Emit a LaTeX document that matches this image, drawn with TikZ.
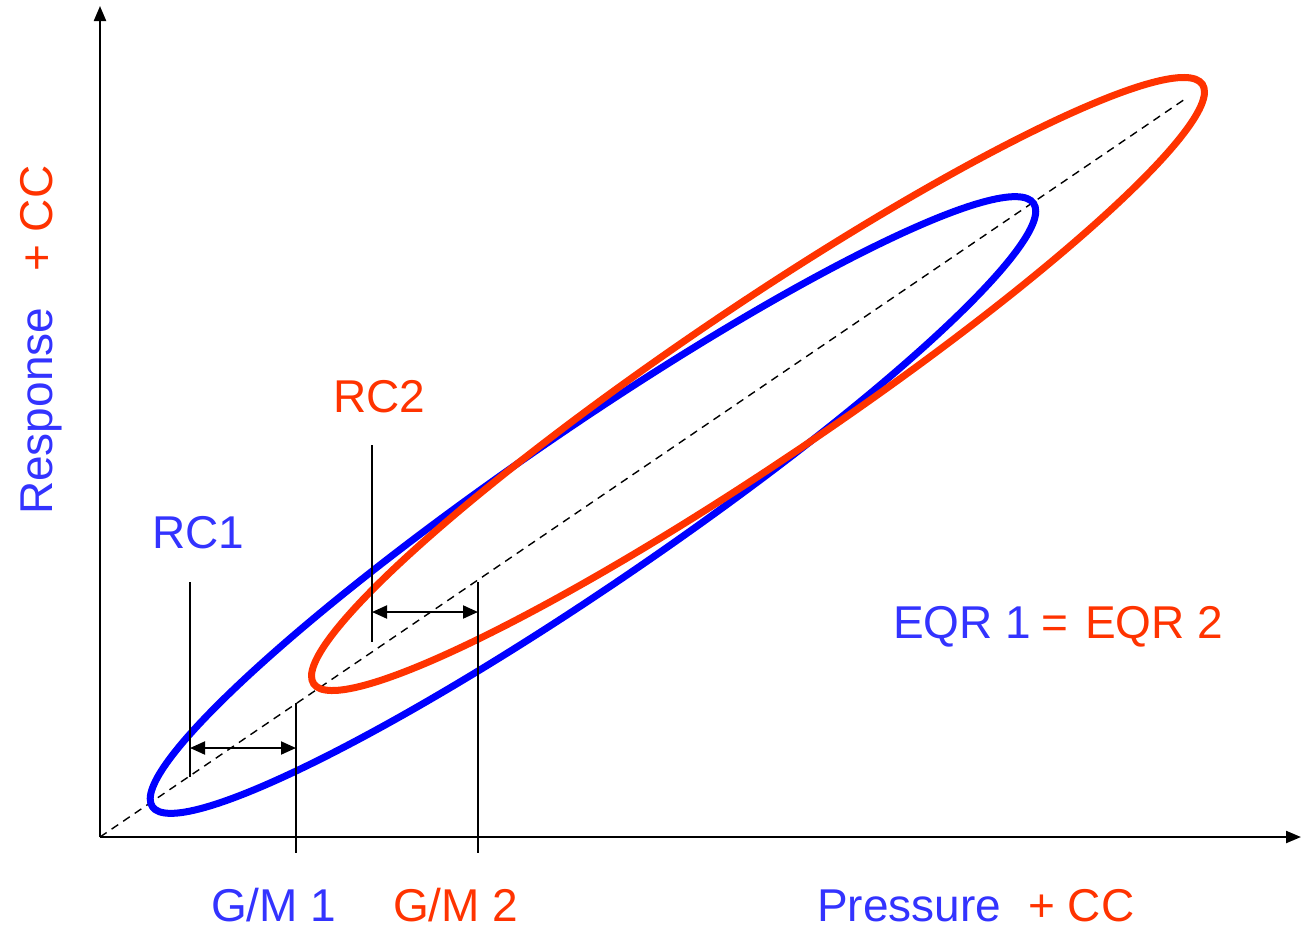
\documentclass[tikz,border=0pt]{standalone}
\usepackage{fontspec}
\setmainfont{Liberation Sans}
\usetikzlibrary{arrows.meta}
\definecolor{eblue}{RGB}{0,0,255}
\definecolor{ered}{RGB}{255,51,0}
\definecolor{tblue}{RGB}{51,51,255}
\definecolor{tred}{RGB}{255,51,0}
\tikzset{
  axisline/.style={line width=2.2pt,-{Triangle[length=15pt,width=12pt]}},
  diagline/.style={line width=1.4pt,dash pattern=on 8pt off 6pt},
  blueell/.style={draw=eblue,line width=7pt},
  redell/.style={draw=ered,line width=7pt},
  refline/.style={line width=1.8pt},
  dimarrow/.style={line width=2pt,{Triangle[length=15pt,width=13pt]}-{Triangle[length=15pt,width=13pt]}},
  lbl/.style={inner sep=0pt,anchor=base west,font=\fontsize{46}{55}\selectfont},
}
\begin{document}
\begin{tikzpicture}[x=1pt,y=-1pt]
\useasboundingbox (0,0) rectangle (1301,929);
% axes
\coordinate (O) at (100,837);
\coordinate (ytop) at (100,6);
\coordinate (xend) at (1301,837);
\coordinate (dend) at (1188,97);
\draw[axisline] (O) -- (ytop);
\draw[axisline] (O) -- (xend);
\draw[diagline] (O) -- (dend);
% ellipses
\coordinate (cb) at (593,505);
\coordinate (cr) at (758,384);
\draw[blueell,rotate around={34.4:(cb)}] (cb) ellipse [x radius=534, y radius=77];
\draw[redell,rotate around={34.0:(cr)}] (cr) ellipse [x radius=536, y radius=77];
% reference lines
\coordinate (rc1t) at (190,582);
\coordinate (rc1b) at (190,777);
\coordinate (gm1t) at (296,703);
\coordinate (gm1b) at (296,853);
\coordinate (rc2t) at (372,445);
\coordinate (rc2b) at (372,642);
\coordinate (gm2t) at (478,582);
\coordinate (gm2b) at (478,853);
\draw[refline] (rc1t) -- (rc1b);
\draw[refline] (gm1t) -- (gm1b);
\draw[refline] (rc2t) -- (rc2b);
\draw[refline] (gm2t) -- (gm2b);
\coordinate (a1l) at (190,748);
\coordinate (a1r) at (296,748);
\coordinate (a2l) at (372,612);
\coordinate (a2r) at (478,612);
\draw[dimarrow] (a1l) -- (a1r);
\draw[dimarrow] (a2l) -- (a2r);
% labels
\node[lbl,text=tblue] (rc1) at (152,548) {RC1};
\node[lbl,text=tred] (rc2) at (333,412) {RC2};
\node[lbl,text=tblue] (gm1) at (211,921) {G/M 1};
\node[lbl,text=tred] (gm2) at (393,921) {G/M 2};
\node[lbl,text=tblue] (press) at (817,921) {Pressure};
\node[lbl,text=tred] (pcc) at (1028,921) {+ CC};
\node[lbl,text=tblue] (eqr1) at (893,638) {EQR 1};
\node[lbl,text=tred] (eq) at (1041,638) {=};
\node[lbl,text=tred] (eqr2) at (1085,638) {EQR 2};
\node[lbl,text=tblue,rotate=90] (resp) at (52,515) {Response};
\node[lbl,text=tred,rotate=90] (rcc) at (52,272) {+ CC};
\end{tikzpicture}
\end{document}
